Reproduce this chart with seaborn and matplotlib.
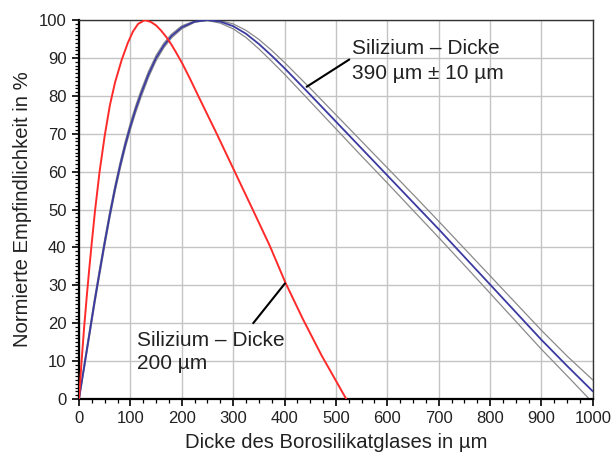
import numpy as np
import pandas as pd
import matplotlib
matplotlib.use("Agg")
import matplotlib.pyplot as plt
from matplotlib.ticker import MultipleLocator
import seaborn as sns

# --- data ---
x_red = [0, 5, 10, 15, 20, 25, 31, 40, 50, 60, 70, 83, 95, 105, 115, 128, 140, 150, 160, 170,
         180, 190, 200, 215, 232, 268, 303, 338, 371, 402, 436, 472, 500, 520]
y_red = [0, 10, 19, 27, 34.5, 41.5, 49.5, 60, 69.5, 77.5, 83.5, 89.5, 94, 97, 99, 100, 99.5, 98.6, 97.2, 95.5,
         93.5, 91.2, 88.8, 84.8, 80, 70, 60, 50, 40.5, 30.6, 21, 11.5, 4.8, 0]

x_si = [0, 10, 20, 30, 40, 50, 60, 70, 80, 90, 100, 110, 120, 135, 150, 165, 180, 200, 225, 250,
        275, 300, 325, 350, 375, 400, 450, 500, 550, 600, 650, 700, 750, 800, 850, 900, 950, 1000]
y_390 = [0, 8.5, 17, 25.5, 33.5, 41.3, 48.7, 55.5, 61.6, 67.1, 72, 76.4, 80.3, 85.6, 90, 93.3, 95.8, 98.1, 99.6, 100,
         99.6, 98.4, 96.4, 93.7, 90.6, 87.3, 80.3, 73.2, 66.1, 59, 51.9, 44.8, 37.5, 30.2, 22.9, 15.6, 8.7, 2]
y_400 = [0, 7.8, 16.2, 24.6, 32.6, 40.4, 47.8, 54.6, 60.7, 66.2, 71.1, 75.5, 79.4, 84.8, 89.3, 92.7, 95.3, 97.7, 99.4, 99.97,
         99.85, 99, 97.3, 94.9, 92, 88.8, 82, 75, 68, 61, 54, 46.9, 39.7, 32.5, 25.3, 18.1, 11.3, 5]
y_380 = [0, 9.2, 17.8, 26.4, 34.4, 42.2, 49.6, 56.4, 62.5, 68, 72.9, 77.3, 81.2, 86.4, 90.7, 93.9, 96.3, 98.5, 99.75, 99.9,
         99.2, 97.7, 95.4, 92.4, 89.1, 85.7, 78.5, 71.3, 64.1, 57, 49.8, 42.6, 35.3, 27.9, 20.5, 13.1, 6.1, -1]

x_ticks = [0, 100, 200, 300, 400, 500, 600, 700, 800, 900, 1000]
y_ticks = [0, 10, 20, 30, 40, 50, 60, 70, 80, 90, 100]

sns.set_theme(style="white")
plt.rcParams['font.family'] = ['Liberation Sans', 'DejaVu Sans']

fig = plt.figure(figsize=(6.15, 4.57), dpi=100)
ax = fig.add_axes([0.1285, 0.127, 0.8355, 0.829])

grid_c = "#c4c4c4"
for v in x_ticks:
    ax.axvline(v, color=grid_c, lw=1.0, zorder=0)
for v in y_ticks:
    ax.axhline(v, color=grid_c, lw=1.0, zorder=0)

df_gray = pd.DataFrame({"x": x_si * 2, "y": y_400 + y_380,
                        "s": ["400"] * len(x_si) + ["380"] * len(x_si)})
sns.lineplot(data=df_gray, x="x", y="y", units="s", estimator=None, color="#8a8a8a",
             lw=0.9, ax=ax, legend=False, zorder=2)
sns.lineplot(x=x_si, y=y_390, color="#3a3aa0", lw=1.3, ax=ax, zorder=3)
sns.lineplot(x=x_red, y=y_red, color="#ff2a2a", lw=1.4, ax=ax, zorder=4)

ax.set_xlim(0, 1000)
ax.set_ylim(0, 100)
ax.set_xticks(x_ticks)
ax.set_yticks(y_ticks)
ax.xaxis.set_minor_locator(MultipleLocator(25))
ax.yaxis.set_minor_locator(MultipleLocator(1))
ax.tick_params(axis="both", which="major", direction="out", length=5, width=1.2,
               labelsize=12, color="black", labelcolor="#222222", pad=4,
               bottom=True, left=True)
ax.tick_params(axis="both", which="minor", direction="out", length=3, width=0.9,
               color="black", bottom=True, left=True)

for side in ["left", "bottom"]:
    ax.spines[side].set_color("black")
    ax.spines[side].set_linewidth(1.6)
for side in ["top", "right"]:
    ax.spines[side].set_color("#333333")
    ax.spines[side].set_linewidth(1.0)

ax.set_xlabel("Dicke des Borosilikatglases in µm", fontsize=14.6, color="#222222", labelpad=5)
ax.set_ylabel("Normierte Empfindlichkeit in %", fontsize=14.6, color="#222222", labelpad=5)

fs = 15
ax.text(530.5, 91.0, "Silizium – Dicke", fontsize=fs, va="baseline", ha="left", color="#222222", zorder=5)
ax.text(530.5, 84.4, "390 µm ± 10 µm", fontsize=fs, va="baseline", ha="left", color="#222222", zorder=5)
ax.plot([526, 443], [89.6, 82.4], color="black", lw=1.5, zorder=5)

ax.text(113.5, 14.1, "Silizium – Dicke", fontsize=fs, va="baseline", ha="left", color="#222222", zorder=5)
ax.text(113.5, 7.8, "200 µm", fontsize=fs, va="baseline", ha="left", color="#222222", zorder=5)
ax.plot([339, 400.8], [20, 30.5], color="black", lw=1.5, zorder=5)

fig.savefig("out.png", dpi=100, facecolor="white")
